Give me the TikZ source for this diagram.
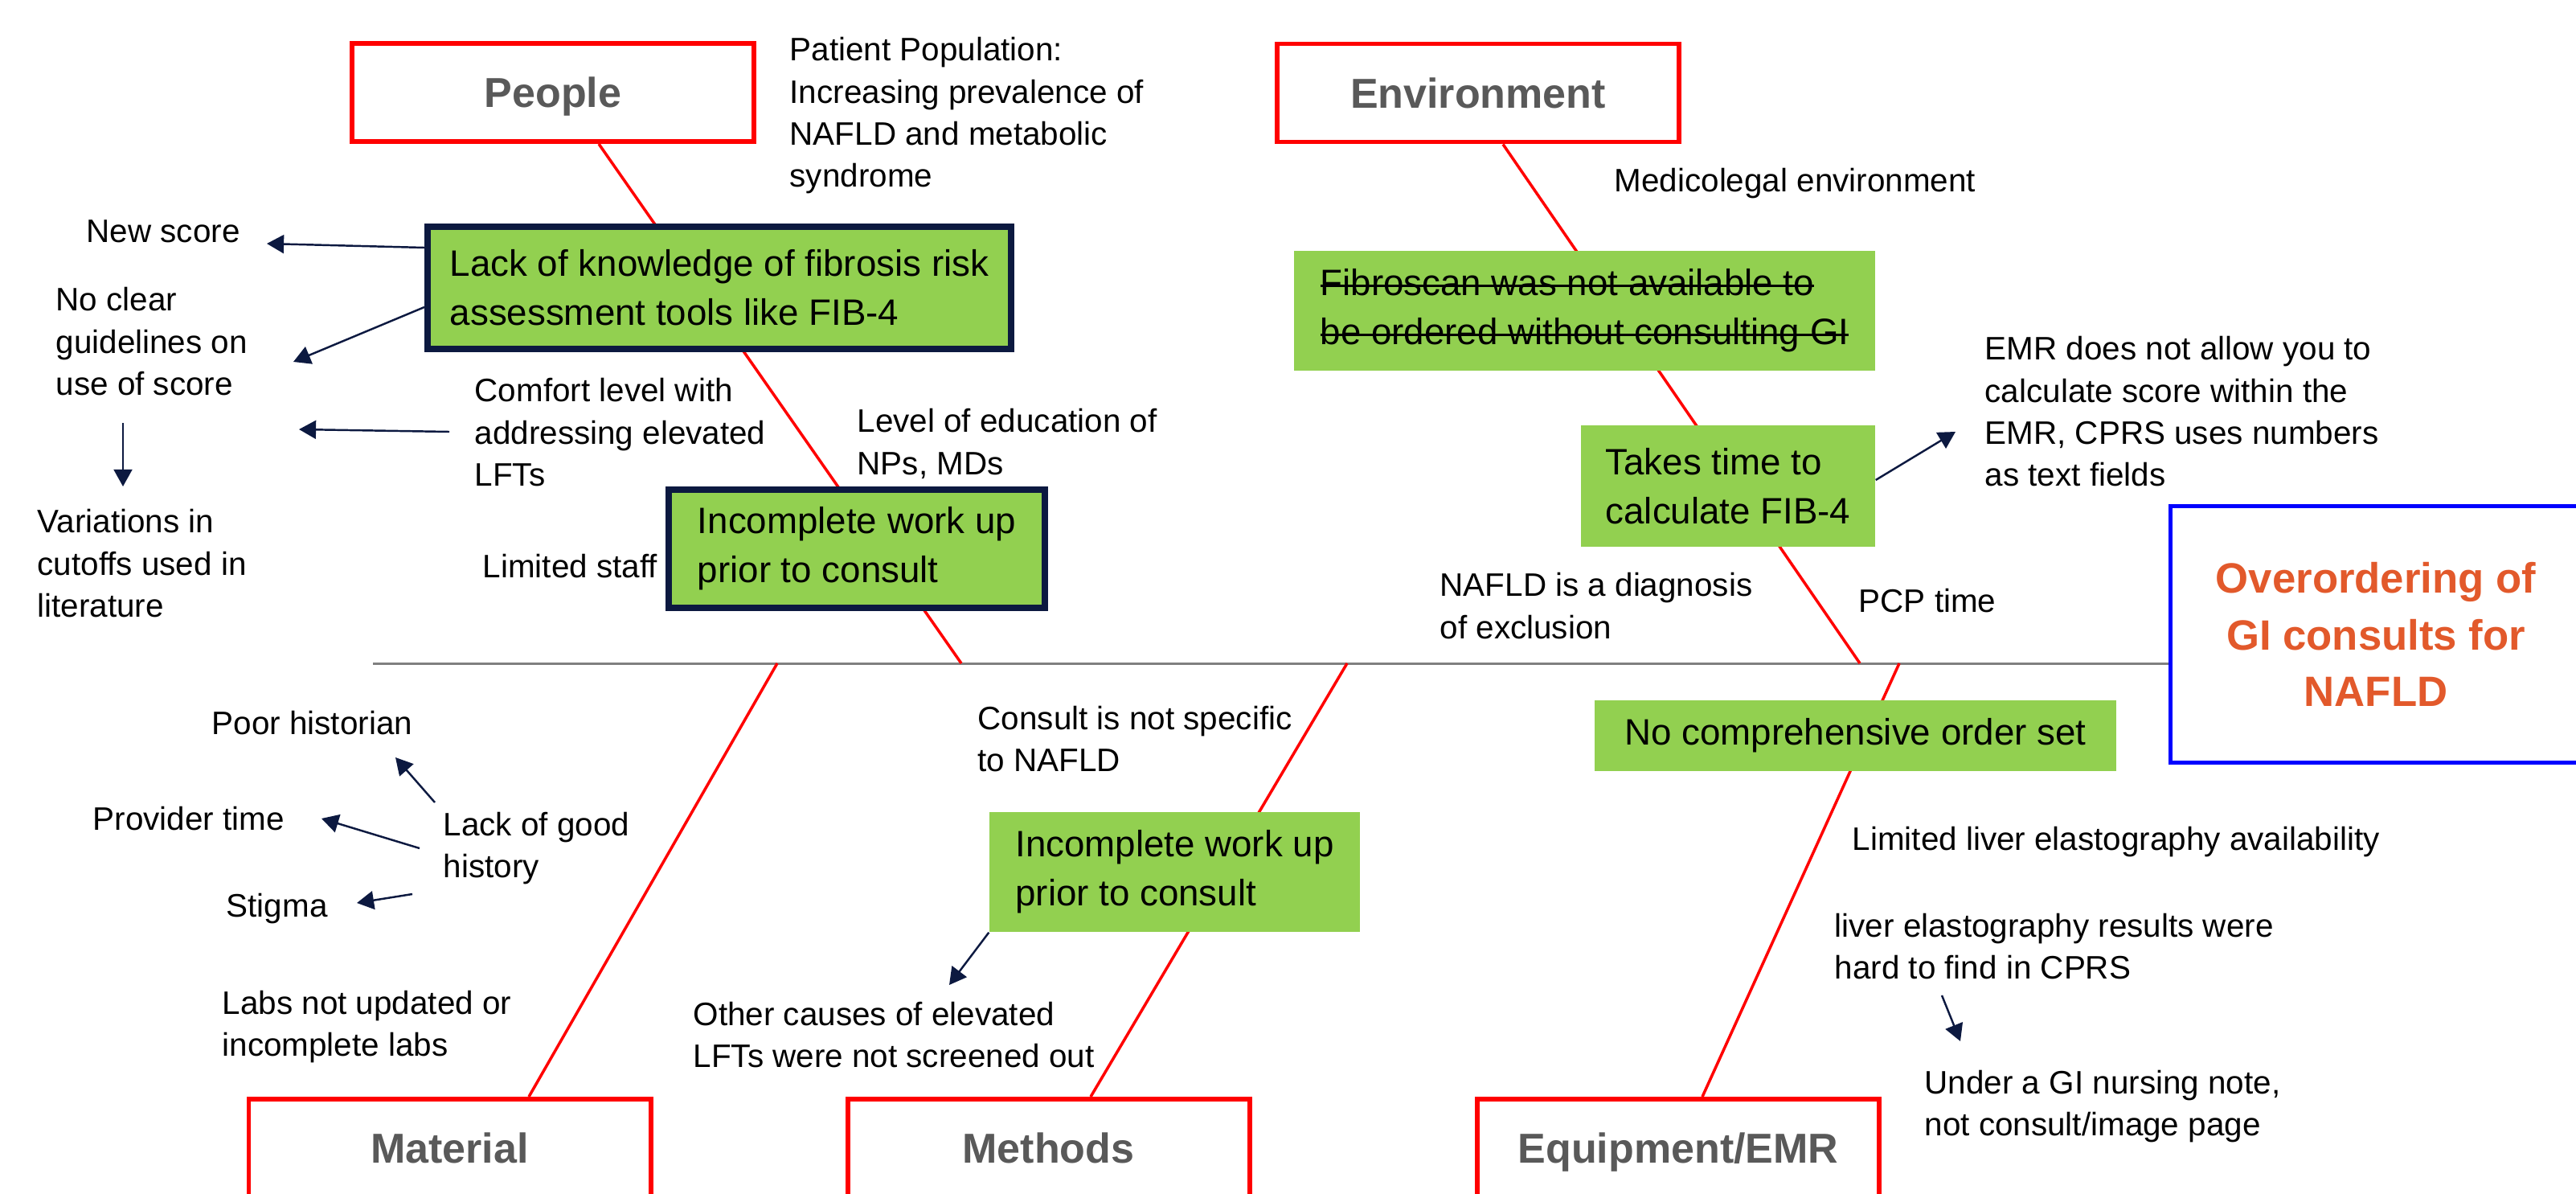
\documentclass[tikz,border=0pt]{standalone}
\usepackage{fontspec}
\setmainfont{Liberation Sans}
\usepackage{tikz}
\usetikzlibrary{arrows.meta}
\usetikzlibrary{backgrounds}

\definecolor{boxred}{RGB}{255,0,0}
\definecolor{labelgray}{RGB}{89,89,89}
\definecolor{causegreen}{RGB}{146,208,80}
\definecolor{navy}{RGB}{12,25,64}
\definecolor{effectblue}{RGB}{0,0,255}
\definecolor{effectorange}{RGB}{226,89,43}
\definecolor{spinegray}{RGB}{128,128,128}

\tikzset{
  category/.style={draw=boxred, line width=1.7pt, minimum width=5cm, minimum height=1.22cm, inner sep=0pt, text depth=0pt, text=labelgray, font=\fontsize{14.8}{17}\selectfont\bfseries},
  effectbox/.style={draw=effectblue, line width=1.4pt, align=center, inner sep=0pt, text=effectorange, font=\fontsize{15}{20}\selectfont\bfseries},
  cause/.style={fill=causegreen, align=left, inner sep=0pt, font=\fontsize{13}{17.4}\selectfont},
  causeframed/.style={cause, draw=navy, line width=2.3pt},
  remark/.style={align=left, inner sep=0pt, anchor=north west, font=\fontsize{11.5}{14.8}\selectfont},
  bone/.style={draw=boxred, line width=1pt},
  spine/.style={draw=spinegray, line width=0.85pt},
  arr/.style={draw=navy, line width=0.7pt, -{Triangle[length=6pt,width=6.5pt]}},
}

\newsavebox{\strikebox}
\newcommand{\strikeout}[1]{\sbox{\strikebox}{#1}\rlap{\rule[0.24em]{\wd\strikebox}{0.8pt}}\usebox{\strikebox}}
\newcommand{\catbox}[4]{\node[category] (#1) at (#2,#3) {#4};}
\newcommand{\causetext}[4]{\node[remark] (#1) at (#2,#3) {#4};}

\begin{document}
\begin{tikzpicture}
\useasboundingbox (0,0) rectangle (32.05,-14.84);
% categories
\catbox{people}{6.88}{-1.15}{People}
\catbox{environ}{18.39}{-1.155}{Environment}
\catbox{material}{5.595}{-14.28}{Material}
\catbox{methods}{13.045}{-14.28}{Methods}
\catbox{equip}{20.88}{-14.28}{Equipment/EMR}
% effect
\node[effectbox, minimum width=5.12cm, minimum height=3.19cm] (effect) at (29.56,-7.89)
  {Overordering of\\GI consults for\\NAFLD};
% main causes
\node[causeframed, minimum width=7.26cm, minimum height=1.52cm] (lackfib) at (8.95,-3.58)
  {Lack of knowledge of fibrosis risk\\assessment tools like FIB-4};
\node[causeframed, minimum width=4.68cm, minimum height=1.47cm] (incompwork) at (10.66,-6.825)
  {Incomplete work up\\prior to consult};
\node[cause, minimum width=7.23cm, minimum height=1.49cm] (fibroscan) at (19.715,-3.865)
  {\strikeout{Fibroscan was not available to}\\\strikeout{be ordered without consulting GI}};
\node[cause, minimum width=3.66cm, minimum height=1.51cm] (takestime) at (21.50,-6.045)
  {Takes time to\\calculate FIB-4};
\node[cause, minimum width=4.61cm, minimum height=1.49cm] (incompmeth) at (14.615,-10.845)
  {Incomplete work up\\prior to consult};
\node[cause, minimum width=6.49cm, minimum height=0.88cm] (ordset) at (23.085,-9.15)
  {No comprehensive order set};
% people side
\causetext{patpop}{9.82}{-0.46}{Patient Population:\\Increasing prevalence of\\NAFLD and metabolic\\syndrome}
\causetext{newscore}{1.07}{-2.73}{New score}
\causetext{noclear}{0.69}{-3.57}{No clear\\guidelines on\\use of score}
\causetext{variations}{0.46}{-6.33}{Variations in\\cutoffs used in\\literature}
\causetext{comfort}{5.90}{-4.70}{Comfort level with\\addressing elevated\\LFTs}
\causetext{leveledu}{10.66}{-5.08}{Level of education of\\NPs, MDs}
\causetext{limstaff}{6.00}{-6.89}{Limited staff}
% environment side
\causetext{medleg}{20.08}{-2.09}{Medicolegal environment}
\causetext{emrcalc}{24.69}{-4.18}{EMR does not allow you to\\calculate score within the\\EMR, CPRS uses numbers\\as text fields}
\causetext{nafldexcl}{17.91}{-7.12}{NAFLD is a diagnosis\\of exclusion}
\causetext{pcptime}{23.12}{-7.32}{PCP time}
% material side
\causetext{poorhist}{2.63}{-8.83}{Poor historian}
\causetext{provtime}{1.15}{-10.02}{Provider time}
\causetext{lackhist}{5.51}{-10.09}{Lack of good\\history}
\causetext{stigma}{2.81}{-11.10}{Stigma}
\causetext{labs}{2.76}{-12.31}{Labs not updated or\\incomplete labs}
% methods side
\causetext{consult}{12.16}{-8.77}{Consult is not specific\\to NAFLD}
\causetext{othercause}{8.62}{-12.45}{Other causes of elevated\\LFTs were not screened out}
% equipment side
\causetext{limliver}{23.04}{-10.27}{Limited liver elastography availability}
\causetext{liverres}{22.82}{-11.35}{liver elastography results were\\hard to find in CPRS}
\causetext{undergi}{23.94}{-13.30}{Under a GI nursing note,\\not consult/image page}
% joints on the spine
\coordinate (tail) at (4.64,-8.25);
\coordinate (pj) at (11.96,-8.25);
\coordinate (ej) at (23.14,-8.25);
\coordinate (mj) at (9.67,-8.25);
\coordinate (mtj) at (16.76,-8.25);
\coordinate (qj) at (23.63,-8.25);
% spine and bones
\begin{pgfonlayer}{background}
\draw[spine] (tail) -- (tail -| effect.west);
\draw[bone] ([xshift=5.7mm]people.south) -- (pj);
\draw[bone] ([xshift=3.1mm]environ.south) -- (ej);
\draw[bone] (mj) -- ([xshift=9.85mm]material.north);
\draw[bone] (mtj) -- ([xshift=5.25mm]methods.north);
\draw[bone] (qj) -- ([xshift=3mm]equip.north);
\end{pgfonlayer}
% arrow ends
\coordinate (toscore) at (3.32,-3.03);
\coordinate (toguide) at (3.65,-4.50);
\coordinate (fromguide) at (1.53,-5.26);
\coordinate (tovar) at (1.53,-6.05);
\coordinate (fromcomf) at (5.59,-5.37);
\coordinate (tocomf) at (3.72,-5.34);
\coordinate (toemr) at (24.33,-5.37);
\coordinate (hist1) at (5.41,-9.98);
\coordinate (topoor) at (4.92,-9.42);
\coordinate (hist2) at (5.22,-10.55);
\coordinate (toprov) at (4.00,-10.18);
\coordinate (hist3) at (5.13,-11.12);
\coordinate (tostig) at (4.44,-11.23);
\coordinate (toother) at (11.81,-12.25);
\coordinate (fromres) at (24.16,-12.38);
\coordinate (tounder) at (24.39,-12.95);
% arrows
\draw[arr] ([yshift=5mm]lackfib.west) -- (toscore);
\draw[arr] ([yshift=-2.4mm]lackfib.west) -- (toguide);
\draw[arr] (fromguide) -- (tovar);
\draw[arr] (fromcomf) -- (tocomf);
\draw[arr] ([yshift=0.75mm]takestime.east) -- (toemr);
\draw[arr] (hist1) -- (topoor);
\draw[arr] (hist2) -- (toprov);
\draw[arr] (hist3) -- (tostig);
\draw[arr] (incompmeth.south west) -- (toother);
\draw[arr] (fromres) -- (tounder);
\end{tikzpicture}
\end{document}
